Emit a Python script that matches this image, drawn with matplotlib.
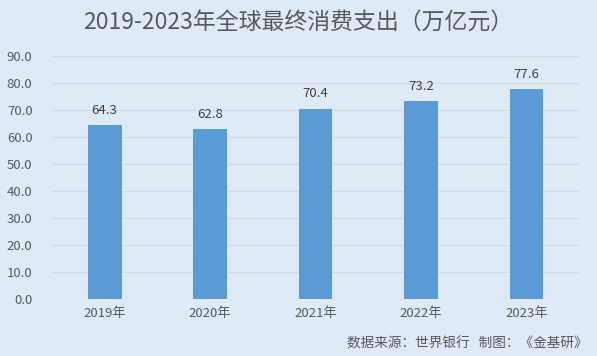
import matplotlib.pyplot as plt
import numpy as np

plt.rcParams['font.family'] = ['Noto Sans CJK SC', 'DejaVu Sans']

years = ['2019年', '2020年', '2021年', '2022年', '2023年']
spending = [64.3, 62.8, 70.4, 73.2, 77.6]
yticks = [0, 10, 20, 30, 40, 50, 60, 70, 80, 90]

bg = '#DEEBF7'
txt = '#595959'

fig = plt.figure(figsize=(5.97, 3.56), dpi=100)
fig.patch.set_facecolor(bg)
ax = fig.add_axes([0.087, 0.160, 0.883, 0.683])
ax.set_facecolor(bg)

x = np.arange(len(years))
ax.bar(x, spending, width=0.32, color='#5B9BD5', zorder=3)
for xi, v in zip(x, spending):
    ax.text(xi, v + 3.2, f'{v:.1f}', ha='center', va='bottom', fontsize=9.5, color='#404040')

ax.set_xlim(-0.5, len(years) - 0.5)
ax.set_ylim(0, 90)
ax.set_yticks(yticks)
ax.set_yticklabels([f'{t:.1f}' for t in yticks])
ax.set_xticks(x)
ax.set_xticklabels(years)
ax.tick_params(axis='both', length=0, labelsize=9.5, labelcolor=txt)
ax.tick_params(axis='y', pad=14)
ax.tick_params(axis='x', pad=6)
ax.grid(axis='y', color='#D9D9D9', linewidth=0.9, zorder=0)
for s in ax.spines.values():
    s.set_visible(False)

fig.text(0.5, 0.935, '2019-2023年全球最终消费支出（万亿元）', ha='center', va='center',
         fontsize=16.5, color=txt)
fig.text(0.985, 0.035, '数据来源：世界银行   制图：《金基研》', ha='right', va='center',
         fontsize=9.8, color=txt)

fig.savefig('out.png', dpi=100, facecolor=bg)
